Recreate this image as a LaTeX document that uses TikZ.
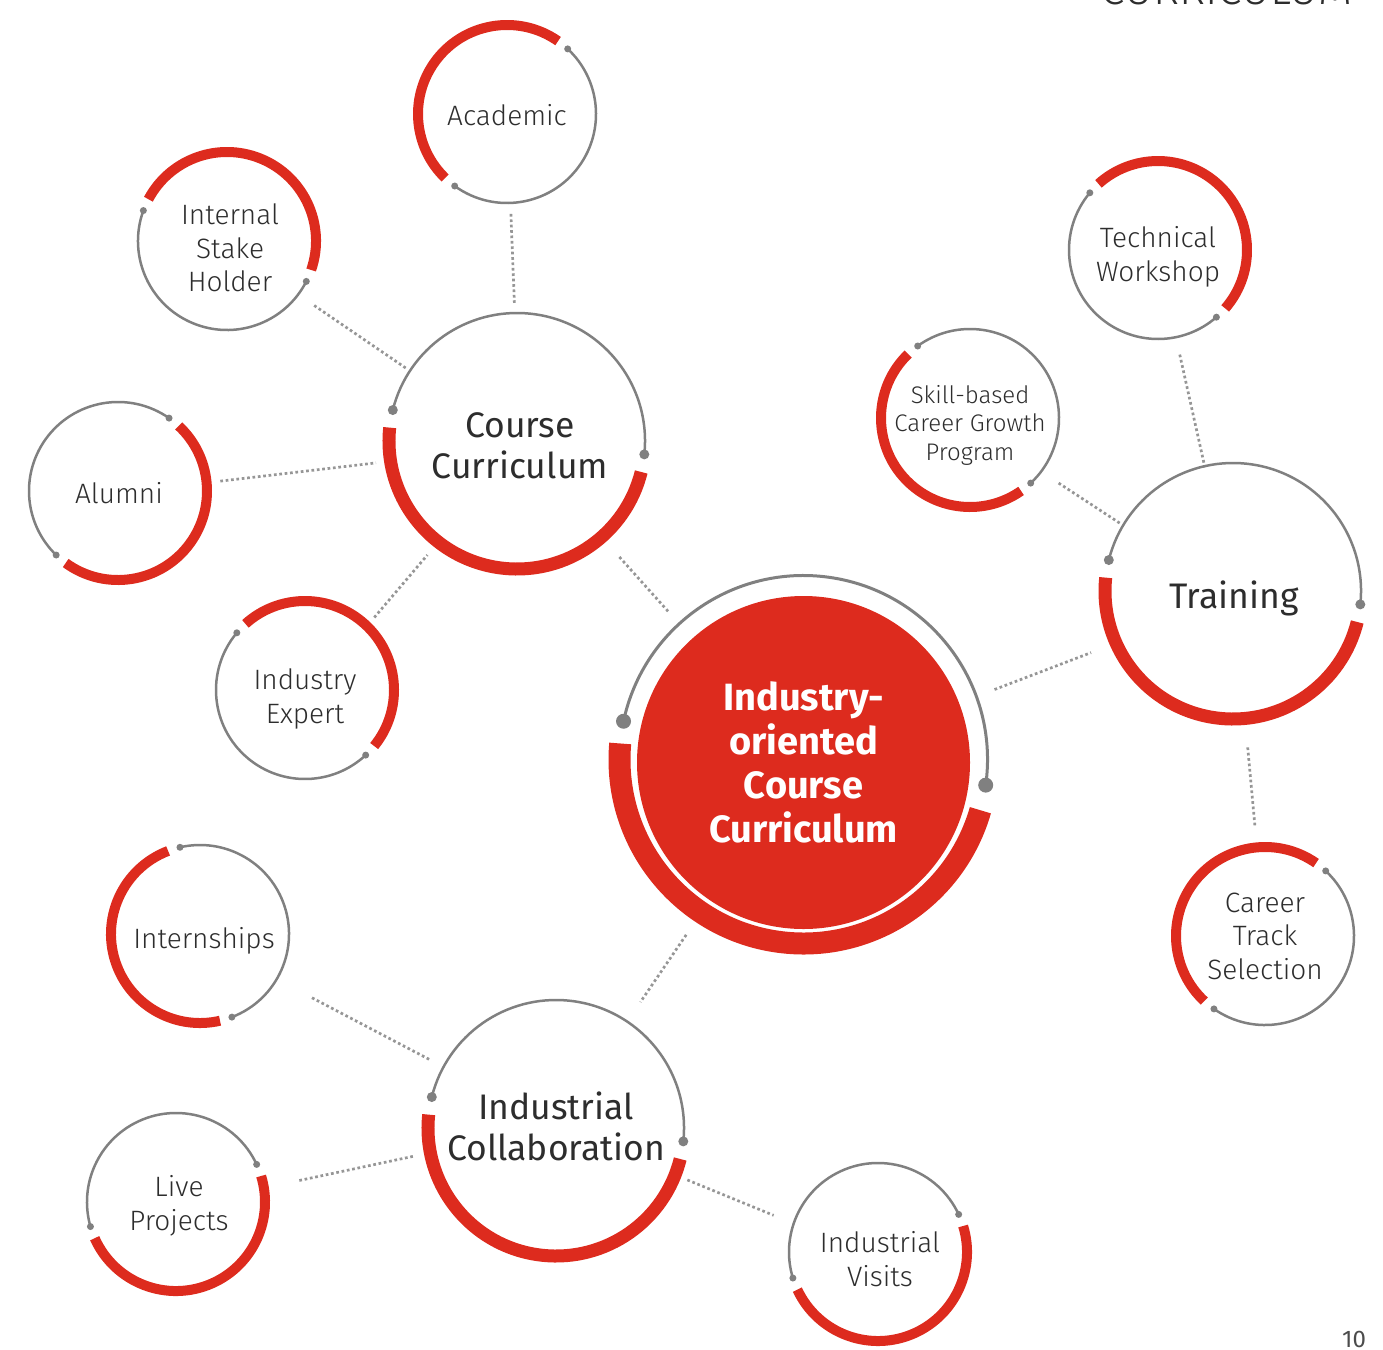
\documentclass[tikz,border=0pt]{standalone}
\usepackage{fontspec}
\setmainfont{Fira Sans}
\newfontfamily\lightfont{Fira Sans Light}
\usetikzlibrary{positioning}

\definecolor{ringred}{RGB}{221,43,30}
\definecolor{ringgray}{RGB}{128,128,128}
\definecolor{linkgray}{RGB}{150,150,150}
\definecolor{textgray}{RGB}{45,45,45}

\begin{document}
\begin{tikzpicture}[
    x=1pt, y=1pt,
    core/.style={circle, fill=ringred, minimum size=333pt, inner sep=0pt, outer sep=0pt,
        align=center, text=white, font=\bfseries\fontsize{38}{44}\selectfont},
    hub/.style={circle, minimum size=256pt, inner sep=0pt, outer sep=0pt,
        align=center, text=textgray, font=\fontsize{35.5}{41}\selectfont},
    leaf/.style={circle, minimum size=178pt, inner sep=0pt, outer sep=0pt,
        align=center, text=textgray, font=\lightfont\fontsize{28}{33.5}\selectfont},
    thinarc/.style={draw=ringgray, line width=2.5pt},
    link/.style={draw=linkgray, line width=2.7pt, dash pattern=on 2.7pt off 2.7pt}
]

\useasboundingbox (0,0) rectangle (1383,-1349);

% --- Page header and number ---
\node[anchor=base east, text=textgray, font=\lightfont\fontsize{44}{50}\selectfont] (header) at (1356,-5) {CURRICULUM};
\node[anchor=base, inner sep=0pt, text=textgray!85, font=\fontsize{24}{28}\selectfont] (pagenum) at (1354,-1347) {10};

% --- Centre ---
\node[core] (main) at (803.5,-762.5) {Industry-\\oriented\\Course\\Curriculum};

% --- Hubs ---
\node[hub] (course) at (520,-446) {Course\\Curriculum};
\node[hub] (training) at (1234,-598) {Training};
\node[hub] (collab) at (556,-1126) {Industrial\\Collaboration};

% --- Leaves ---
\node[leaf] (academic) at (507,-115) {Academic};
\node[leaf] (internal) at (230,-248) {Internal\\Stake\\Holder};
\node[leaf] (alumni) at (119,-493) {Alumni};
\node[leaf] (expert) at (305,-699) {Industry\\Expert};
\node[leaf] (technical) at (1158,-257) {Technical\\Workshop};
\node[leaf, font=\lightfont\fontsize{24}{28.5}\selectfont] (skill) at (970,-425) {Skill-based\\Career Growth\\Program};
\node[leaf] (career) at (1265,-936) {Career\\Track\\Selection};
\node[leaf] (intern) at (204,-941) {Internships};
\node[leaf] (live) at (179,-1206) {Live\\Projects};
\node[leaf] (visits) at (880,-1259) {Industrial\\Visits};

% --- Dotted links ---
\foreach \s/\t/\p/\q in {academic/course/10pt/13pt, internal/course/13pt/10pt,
    alumni/course/13pt/17pt, expert/course/18pt/15pt, course/main/21pt/34pt,
    main/collab/42pt/22pt, main/training/38pt/25pt, technical/training/11pt/6pt,
    skill/training/17pt/8pt, training/career/22pt/21pt, intern/collab/33pt/15pt,
    live/collab/34pt/18pt, collab/visits/14pt/26pt}
{
    \draw[link, shorten <=\p, shorten >=\q] (\s) -- (\t);
}

% --- Rings round the leaves (ring centre sits a little off the text) ---
\foreach \n/\a/\b/\dx/\dy [evaluate=\b as \rs using \b+8, evaluate=\a as \re using \a+352] in
    {academic/234/407/0/1, internal/160/333/3/7, alumni/55/226/1/2, expert/140/313/0/9,
     technical/140/311/0/7, skill/313/486/0/7, career/235/407/0/0, intern/291/463/4/7,
     live/25/196/3/4, visits/25/197/2/7}
{
    \path (\n.center) ++(-\dx pt,\dy pt) coordinate (rc);
    \draw[thinarc] (rc) ++(\a:89pt) arc[start angle=\a, end angle=\b, radius=89pt];
    \draw[ringred, line width=10pt] (rc) ++(\rs:89pt) arc[start angle=\rs, end angle=\re, radius=89pt];
    \fill[ringgray] (rc) ++(\a:89pt) circle[radius=3.5pt];
    \fill[ringgray] (rc) ++(\b:89pt) circle[radius=3.5pt];
}

% --- Rings round the hubs ---
\foreach \n/\dx/\dy in {course/3/5, training/1/7, collab/0/-2}
{
    \path (\n.center) ++(-\dx pt,\dy pt) coordinate (rc);
    \draw[thinarc] (rc) ++(-6:128pt) arc[start angle=-6, end angle=166, radius=128pt];
    \draw[ringred, line width=13pt] (rc) ++(174:128pt) arc[start angle=174, end angle=346, radius=128pt];
    \fill[ringgray] (rc) ++(-6:128pt) circle[radius=5pt];
    \fill[ringgray] (rc) ++(166:128pt) circle[radius=5pt];
}

% --- Ring round the centre ---
\path (main.center) ++(0,3pt) coordinate (rc);
\draw[thinarc, line width=3pt] (rc) ++(-8:184pt) arc[start angle=-8, end angle=168, radius=184pt];
\draw[ringred, line width=22pt] (rc) ++(175:184pt) arc[start angle=175, end angle=344, radius=184pt];
\fill[ringgray] (rc) ++(-8:184pt) circle[radius=7.5pt];
\fill[ringgray] (rc) ++(168:184pt) circle[radius=7.5pt];

\end{tikzpicture}
\end{document}
